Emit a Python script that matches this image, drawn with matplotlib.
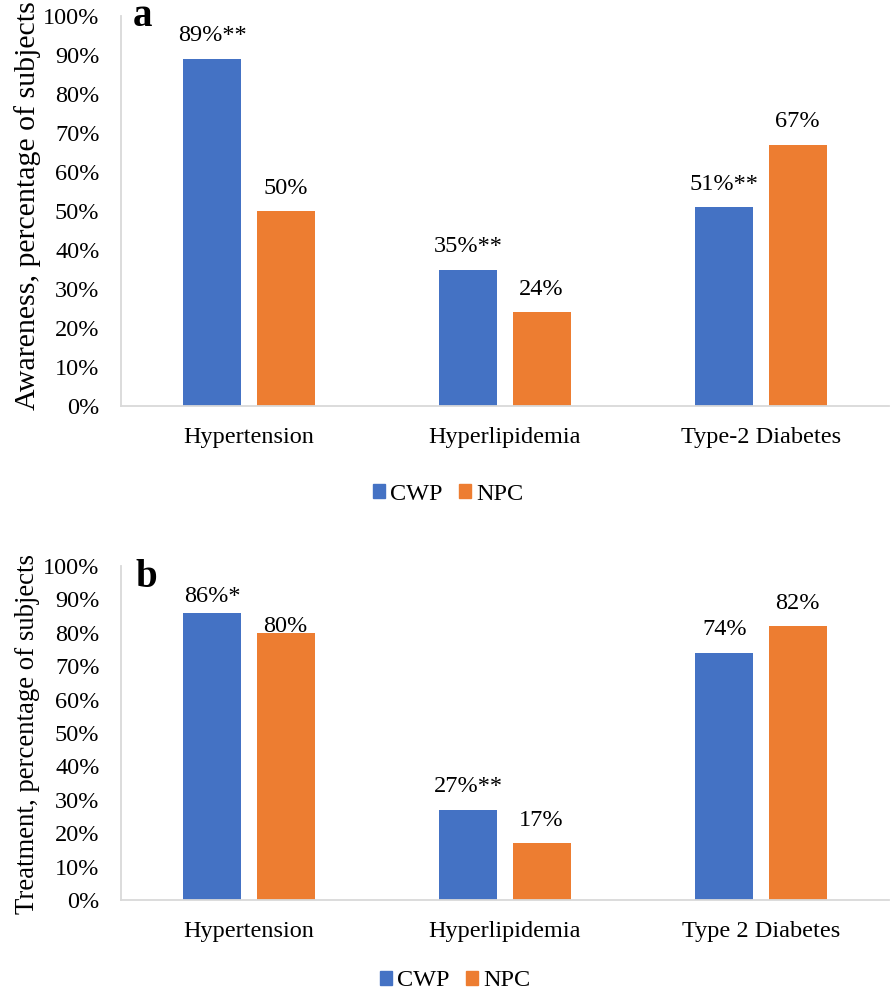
import numpy as np
import matplotlib
matplotlib.use("Agg")
import matplotlib.pyplot as plt
from matplotlib.patches import Patch

# data
cats_a = ["Hypertension", "Hyperlipidemia", "Type-2 Diabetes"]
cats_b = ["Hypertension", "Hyperlipidemia", "Type 2 Diabetes"]
series = ["CWP", "NPC"]

awareness_cwp = [89, 35, 51]
awareness_npc = [50, 24, 67]
awareness_cwp_lbl = ["89%**", "35%**", "51%**"]
awareness_npc_lbl = ["50%", "24%", "67%"]

treatment_cwp = [86, 27, 74]
treatment_npc = [80, 17, 82]
treatment_cwp_lbl = ["86%*", "27%**", "74%"]
treatment_npc_lbl = ["80%", "17%", "82%"]

yticks = list(range(0, 101, 10))

BLUE = "#4472C4"
ORANGE = "#ED7D31"
GREY = "#D9D9D9"
FS = 17.5

plt.rcParams["font.family"] = ["Liberation Serif", "DejaVu Serif"]

W, H = 896, 990
fig = plt.figure(figsize=(W / 100, H / 100), dpi=100)


def px_axes(left, top, right, bottom):
    return fig.add_axes([left / W, 1 - bottom / H, (right - left) / W, (bottom - top) / H])


def draw_panel(ax, cats, v1, v2, l1, l2, offsets=None):
    x = np.arange(len(cats))
    w = 0.226
    d = 0.143
    b1 = ax.bar(x - d, v1, w, color=BLUE)
    b2 = ax.bar(x + d, v2, w, color=ORANGE)
    offsets = offsets or {}
    for k, (bars, labels) in enumerate([(b1, l1), (b2, l2)]):
        for i, (r, t) in enumerate(zip(bars, labels)):
            off = offsets.get((k, i), 12.6)
            ax.annotate(t, (r.get_x() + r.get_width() / 2, r.get_height()),
                        xytext=(0, off), textcoords="offset points",
                        ha="center", va="baseline", fontsize=FS)
    ax.set_xlim(-0.5, len(cats) - 0.5)
    ax.set_ylim(0, 100)
    ax.set_yticks(yticks)
    ax.set_yticklabels([f"{v}%" for v in yticks], fontsize=FS)
    ax.set_xticks(x)
    ax.set_xticklabels(cats, fontsize=FS)
    ax.tick_params(axis="y", length=0, pad=15.5)
    ax.tick_params(axis="x", length=0, pad=15)
    for s in ["top", "right"]:
        ax.spines[s].set_visible(False)
    for s in ["left", "bottom"]:
        ax.spines[s].set_color(GREY)
        ax.spines[s].set_linewidth(1.3)


ax_a = px_axes(121, 16, 889, 406)
draw_panel(ax_a, cats_a, awareness_cwp, awareness_npc, awareness_cwp_lbl, awareness_npc_lbl)

ax_b = px_axes(121, 566, 889, 900)
draw_panel(ax_b, cats_b, treatment_cwp, treatment_npc, treatment_cwp_lbl, treatment_npc_lbl,
           offsets={(0, 0): 8, (1, 0): 0.8})

# axis titles
fig.text(28 / W, 1 - 206 / H, "Awareness, percentage of subjects", rotation=90,
         ha="center", va="center", fontsize=21.5)
fig.text(28 / W, 1 - 734 / H, "Treatment, percentage of subjects", rotation=90,
         ha="center", va="center", fontsize=19.3)

# panel letters
fig.text(133 / W, 1 - 26 / H, "a", fontsize=28, fontweight="bold", va="baseline")
fig.text(135 / W, 1 - 587 / H, "b", fontsize=28, fontweight="bold", va="baseline")

handles = [Patch(color=BLUE, label=series[0]), Patch(color=ORANGE, label=series[1])]
for cx, cy in [(448, 494), (455, 981)]:
    fig.legend(handles=handles, loc="center", bbox_to_anchor=(cx / W, 1 - cy / H),
               ncol=2, frameon=False, fontsize=FS, handlelength=0.5, handleheight=0.5,
               handletextpad=0.2, columnspacing=0.7, borderpad=0, borderaxespad=0)

fig.savefig("out.png", dpi=100)
